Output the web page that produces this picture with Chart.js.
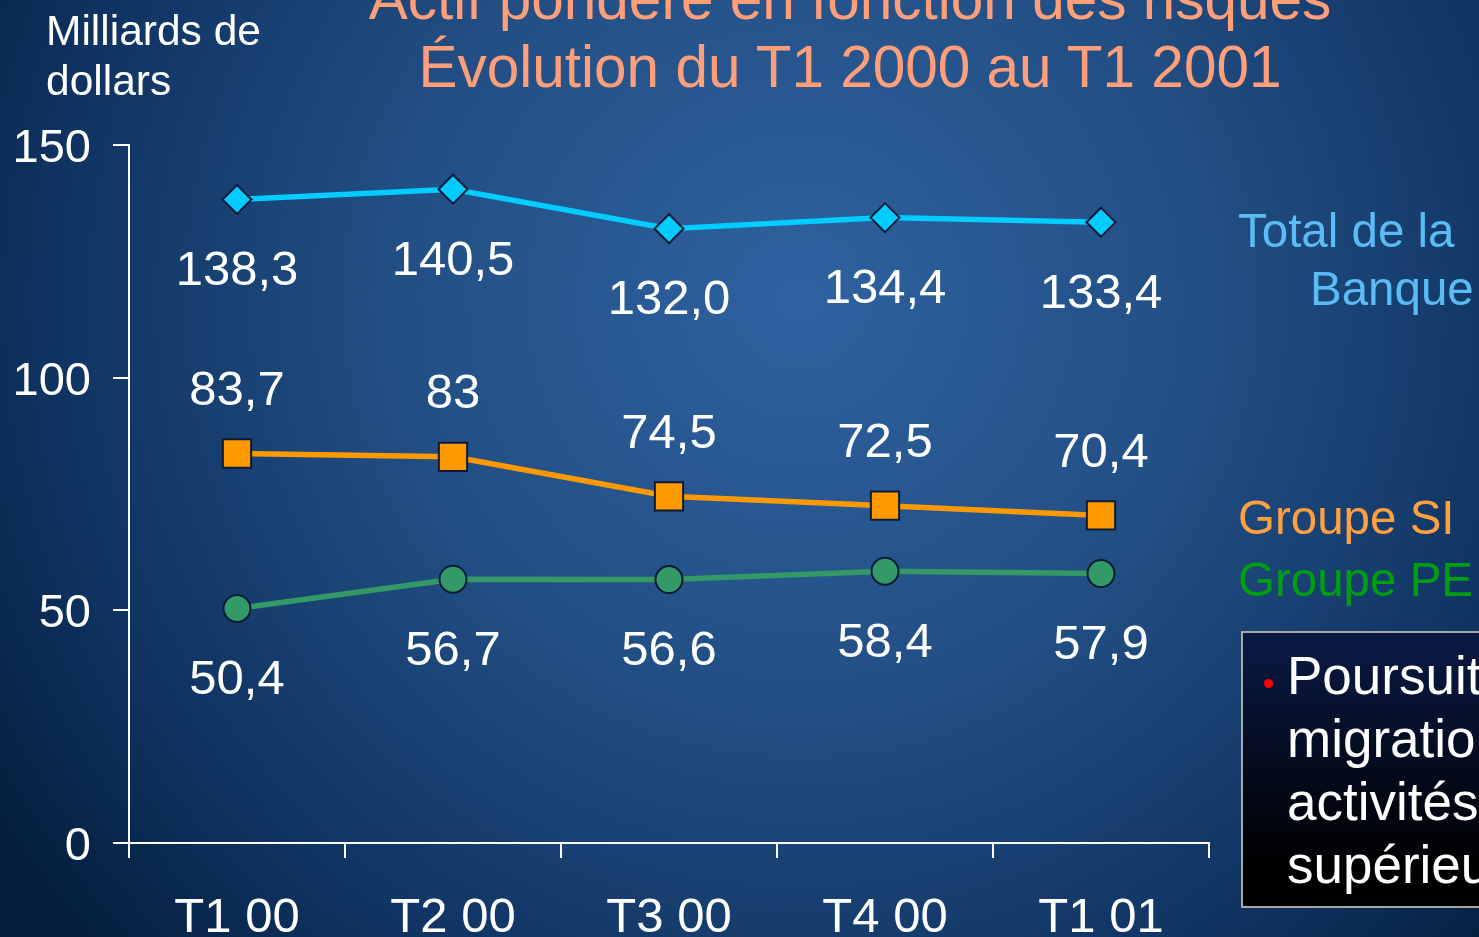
<!DOCTYPE html>
<html><head><meta charset="utf-8">
<script src="https://cdn.jsdelivr.net/npm/chart.js@4.4.1/dist/chart.umd.min.js"></script>
<style>
html,body{margin:0;padding:0;width:1479px;height:937px;overflow:hidden;background:#0b2a50;font-family:"Liberation Sans",Arial,sans-serif;}
#wrap{position:relative;width:1479px;height:937px;}
canvas{position:absolute;left:0;top:0;}
.t{position:absolute;white-space:nowrap;}
#title{left:0;width:1700px;text-align:center;top:-35px;color:#ff9f7a;font-size:58.5px;line-height:68px;}
#ytitle{left:46px;top:6px;color:#fff;font-size:42.5px;line-height:50px;}
.leg{font-size:47.5px;line-height:54px;}
#box{position:absolute;left:1241px;top:631px;width:260px;height:273px;border:2px solid #a8a8a8;background:linear-gradient(#0a1a45,#000 85%);overflow:hidden;}
#box div{position:absolute;left:44px;top:11px;color:#fff;font-size:53px;line-height:63px;white-space:nowrap;}
#bullet{position:absolute;left:21px;top:46px;width:9px;height:9px;border-radius:50%;background:#ff0000;}
</style></head>
<body><div id="wrap">
<canvas id="c" width="1479" height="937"></canvas>
<div id="title" class="t">Actif pondéré en fonction des risques<br>Évolution du T1 2000 au T1 2001</div>
<div id="ytitle" class="t">Milliards de<br>dollars</div>
<div class="t leg" style="left:1238px;top:204px;color:#5bbcf5;">Total de la</div>
<div class="t leg" style="left:1310px;top:262px;color:#5bbcf5;">Banque</div>
<div class="t leg" style="left:1238px;top:491px;color:#ffa040;">Groupe SI</div>
<div class="t leg" style="left:1238px;top:553px;color:#009e10;">Groupe PE</div>
<div id="box"><span id="bullet"></span><div>Poursuite de la<br>migration vers des<br>activités à rendement<br>supérieur</div></div>
</div>
<script>
const categories = ['T1 00','T2 00','T3 00','T4 00','T1 01'];
const totalBanque = [138.3, 140.5, 132.0, 134.4, 133.4];
const groupeSI = [83.7, 83, 74.5, 72.5, 70.4];
const groupePE = [50.4, 56.7, 56.6, 58.4, 57.9];
const totalLabels = ['138,3','140,5','132,0','134,4','133,4'];
const siLabels = ['83,7','83','74,5','72,5','70,4'];
const peLabels = ['50,4','56,7','56,6','58,4','57,9'];
const yTicks = [0, 50, 100, 150];

const bgPlugin = {
  id:'bg',
  beforeDraw(chart){
    const ctx = chart.ctx;
    const g = ctx.createRadialGradient(800, 300, 0, 800, 300, 950);
    g.addColorStop(0, '#2f62a0');
    g.addColorStop(0.45, '#214d82');
    g.addColorStop(0.8, '#0f3260');
    g.addColorStop(1, '#05203f');
    ctx.save();
    ctx.fillStyle = g;
    ctx.fillRect(0,0,chart.width,chart.height);
    ctx.restore();
  }
};

const labelPlugin = {
  id:'vlabels',
  afterDatasetsDraw(chart){
    const ctx = chart.ctx;
    ctx.save();
    ctx.font = '49px "Liberation Sans", Arial, sans-serif';
    ctx.fillStyle = '#ffffff';
    ctx.textAlign = 'center';
    ctx.textBaseline = 'middle';
    chart.data.datasets.forEach((ds, di) => {
      const meta = chart.getDatasetMeta(di);
      meta.data.forEach((pt, i) => {
        ctx.fillText(ds.valueLabels[i], pt.x, pt.y + ds.labelOffset);
      });
    });
    ctx.restore();
  }
};

const marker = '#0d1a38';
new Chart(document.getElementById('c'), {
  type:'line',
  data:{
    labels: categories,
    datasets:[
      {data: totalBanque, valueLabels: totalLabels, labelOffset: 72, borderColor:'#00ccff', backgroundColor:'#00ccff', borderWidth:5.5,
       pointStyle:'rectRot', pointRadius:14.5, pointBorderColor:marker, pointBorderWidth:2, pointBackgroundColor:'#00ccff'},
      {data: groupeSI, valueLabels: siLabels, labelOffset: -62, borderColor:'#ff9900', backgroundColor:'#ff9900', borderWidth:5.5,
       pointStyle:'rect', pointRadius:20, pointBorderColor:marker, pointBorderWidth:2, pointBackgroundColor:'#ff9900'},
      {data: groupePE, valueLabels: peLabels, labelOffset: 72, borderColor:'#339966', backgroundColor:'#339966', borderWidth:5.5,
       pointStyle:'circle', pointRadius:13.5, pointBorderColor:marker, pointBorderWidth:2, pointBackgroundColor:'#339966'}
    ]
  },
  options:{
    responsive:false,
    animation:false,
    layout:{padding:{left:0, right:270, top:145, bottom:0}},
    plugins:{legend:{display:false}, tooltip:{enabled:false}, title:{display:false}},
    scales:{
      x:{
        type:'category', offset:true,
        grid:{offset:true, drawOnChartArea:false, drawTicks:true, tickLength:15, color:'#ffffff', lineWidth:2},
        border:{display:true, color:'#ffffff', width:2},
        ticks:{color:'#ffffff', font:{size:49, family:'"Liberation Sans", Arial, sans-serif'}, padding:31, maxRotation:0},
        afterFit(s){ s.height = 94; }
      },
      y:{
        min:0, max:150,
        afterBuildTicks(s){ s.ticks = yTicks.map(v => ({value:v})); },
        grid:{drawOnChartArea:false, drawTicks:true, tickLength:16, color:'#ffffff', lineWidth:2},
        border:{display:true, color:'#ffffff', width:2},
        ticks:{color:'#ffffff', font:{size:47, family:'"Liberation Sans", Arial, sans-serif'}, padding:22, labelOffset:4},
        afterFit(s){ s.width = 129; }
      }
    }
  },
  plugins:[bgPlugin, labelPlugin]
});
</script>
</body></html>
